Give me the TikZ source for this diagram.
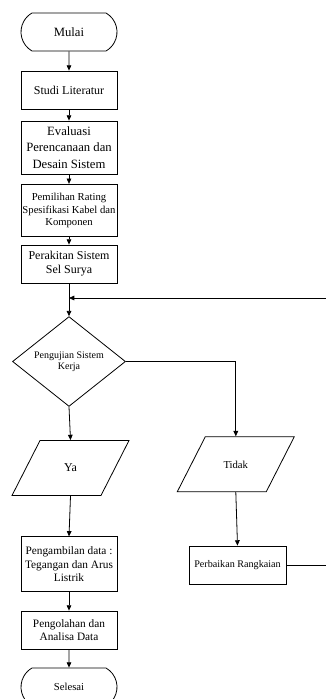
\documentclass[tikz,border=0pt]{standalone}
\usepackage{fontspec}
\setmainfont{Liberation Serif}
\usetikzlibrary{shapes.geometric,shapes.misc,arrows.meta}
\newdimen\upx \upx=0.75pt
\begin{document}
\begin{tikzpicture}[x=0.75pt,y=-0.75pt,
 line width=0.6pt,
 box/.style={draw, rectangle, inner sep=0pt, minimum width=96\upx, align=center},
 term/.style={draw, rounded rectangle, rounded rectangle arc length=120, inner sep=0pt, minimum width=96\upx, minimum height=38\upx},
 io/.style={draw, trapezium, trapezium left angle=63, trapezium right angle=117, trapezium stretches body, inner sep=0pt, text height=23.5pt, text depth=17.75pt, minimum width=117\upx},
 dec/.style={draw, diamond, inner sep=0pt, minimum width=113\upx, minimum height=89\upx, align=center},
 arr/.style={-{Triangle[length=4pt,width=3.5pt]}}]
\useasboundingbox (0,0) rectangle (325,699);
\node[term, font=\fontsize{9.5}{11}\selectfont] (mulai) at (69,32) {Mulai};
\node[box, minimum height=38\upx, font=\fontsize{9}{11}\selectfont] (studi) at (69,90) {Studi Literatur};
\node[box, minimum height=53\upx, font=\fontsize{9.5}{12.5}\selectfont] (eval) at (69,147.5) {Evaluasi\\Perencanaan dan\\Desain Sistem};
\node[box, minimum height=52.5\upx, font=\fontsize{8}{9.4}\selectfont] (pemil) at (69,210.5) {Pemilihan Rating\\Spesifikasi Kabel dan\\Komponen};
\node[box, minimum height=38\upx, font=\fontsize{9}{10.5}\selectfont] (perak) at (69,264) {Perakitan Sistem\\Sel Surya};
\coordinate (merge) at (69,298);
\coordinate (redge) at (332,298);
\node[dec, font=\fontsize{7.5}{8.5}\selectfont] (dia) at (69,361.5) {Pengujian Sistem\\Kerja};
\node[io, font=\fontsize{9}{11}\selectfont] (ya) at (70.5,468) {Ya};
\node[io, font=\fontsize{8}{10}\selectfont] (tidak) at (235.8,464.2) {Tidak};
\node[box, minimum height=55\upx, font=\fontsize{8.5}{9.9}\selectfont] (ambil) at (69,564.3) {Pengambilan data :\\Tegangan dan Arus\\Listrik};
\node[box, minimum height=38\upx, font=\fontsize{8.5}{9.5}\selectfont] (olah) at (69,630) {Pengolahan dan\\Analisa Data};
\node[term, font=\fontsize{8}{10}\selectfont] (selesai) at (69,687) {Selesai};
\node[box, minimum width=97\upx, minimum height=38\upx, font=\fontsize{7.6}{9}\selectfont] (perb) at (237.5,565) {Perbaikan Rangkaian};
\draw[arr] (mulai) -- (studi);
\draw[arr] (studi) -- (eval);
\draw[arr] (eval) -- (pemil);
\draw[arr] (pemil) -- (perak);
\draw[arr] (perak) -- (dia);
\draw[arr] (perb.east) -- (perb.east -| redge) -- (redge) -- (merge);
\draw[arr] (dia.east) -| (tidak.north);
\draw[arr] (dia.south) -- (ya.north);
\draw[arr] (tidak.south) -- (perb.north);
\draw[arr] (ya.south) -- (ambil.north);
\draw[arr] (ambil) -- (olah);
\draw[arr] (olah) -- (selesai);
\end{tikzpicture}
\end{document}
